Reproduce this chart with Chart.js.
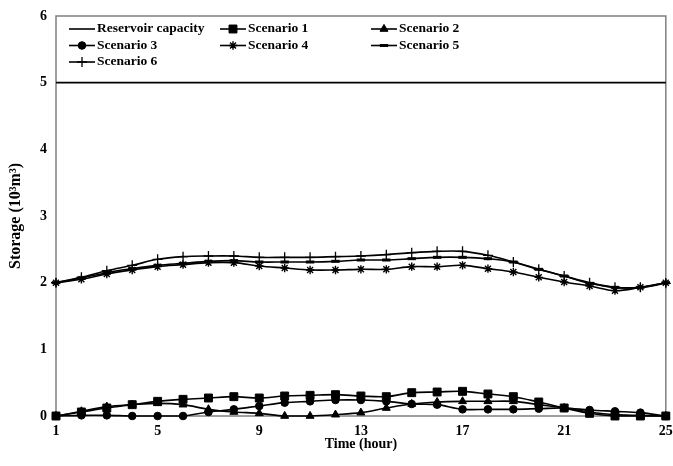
<!DOCTYPE html>
<html>
<head>
<meta charset="utf-8">
<script src="https://cdn.jsdelivr.net/npm/chart.js@4.4.1/dist/chart.umd.min.js"></script>
<style>
  html, body { margin: 0; padding: 0; background: #fff; }
  #wrap { width: 673px; height: 466px; position: relative; }
</style>
</head>
<body>
<div id="wrap"><canvas id="storageChart"></canvas></div>
<script>
// hours of the day (x axis)
const hours = [1, 2, 3, 4, 5, 6, 7, 8, 9, 10, 11, 12, 13, 14, 15, 16, 17, 18, 19, 20, 21, 22, 23, 24, 25];

// storage values (10^3 m^3)
const capacity  = [5, 5, 5, 5, 5, 5, 5, 5, 5, 5, 5, 5, 5, 5, 5, 5, 5, 5, 5, 5, 5, 5, 5, 5, 5];
const scenario1 = [0, 0.06, 0.12, 0.17, 0.22, 0.25, 0.27, 0.29, 0.27, 0.30, 0.31, 0.32, 0.30, 0.29, 0.35, 0.36, 0.37, 0.33, 0.29, 0.21, 0.12, 0.04, 0, 0, 0];
const scenario2 = [0, 0.07, 0.14, 0.17, 0.19, 0.17, 0.10, 0.06, 0.04, 0, 0, 0.02, 0.05, 0.12, 0.18, 0.21, 0.22, 0.22, 0.22, 0.17, 0.12, 0.06, 0.02, 0.01, 0];
const scenario3 = [0, 0.01, 0.01, 0, 0, 0, 0.06, 0.10, 0.15, 0.20, 0.22, 0.24, 0.24, 0.22, 0.18, 0.17, 0.10, 0.10, 0.10, 0.11, 0.12, 0.09, 0.07, 0.05, 0];
const scenario4 = [2.0, 2.05, 2.13, 2.19, 2.24, 2.27, 2.30, 2.30, 2.25, 2.22, 2.19, 2.19, 2.20, 2.20, 2.24, 2.24, 2.26, 2.21, 2.16, 2.08, 2.01, 1.95, 1.88, 1.93, 2.0];
const scenario5 = [2.0, 2.07, 2.15, 2.21, 2.26, 2.29, 2.32, 2.33, 2.31, 2.31, 2.31, 2.32, 2.34, 2.34, 2.36, 2.38, 2.38, 2.36, 2.31, 2.20, 2.10, 1.99, 1.93, 1.93, 2.0];
const scenario6 = [2.0, 2.08, 2.18, 2.26, 2.35, 2.39, 2.40, 2.40, 2.38, 2.38, 2.38, 2.39, 2.40, 2.42, 2.45, 2.47, 2.47, 2.41, 2.31, 2.20, 2.10, 2.00, 1.93, 1.93, 1.99];

const yTicks = [0, 1, 2, 3, 4, 5, 6];
const xTicks = [1, 5, 9, 13, 17, 21, 25];

const FONT = "'Liberation Serif', 'Times New Roman', serif";

function series(label, data, style, radius, bw) {
    return {
        label: label,
        data: data,
        borderColor: '#000',
        backgroundColor: '#000',
        borderWidth: 1.6,
        tension: 0.35,
        pointStyle: style,
        pointRadius: radius,
        pointHoverRadius: radius,
        pointBorderWidth: bw,
        pointBackgroundColor: '#000',
        pointBorderColor: '#000',
        clip: false
    };
}

const datasets = [
    series('Reservoir capacity', capacity, false, 0, 0),
    series('Scenario 1', scenario1, 'rect', 5.6, 1),
    series('Scenario 2', scenario2, 'triangle', 4.6, 1),
    series('Scenario 3', scenario3, 'circle', 3.8, 1),
    series('Scenario 4', scenario4, 'star', 4.2, 1.4),
    series('Scenario 5', scenario5, 'line', 4.2, 3),
    series('Scenario 6', scenario6, 'cross', 5, 1.3)
];

// legend drawn inside the plot, three fixed columns like the original
const legendCols = [69, 220, 371];
const legendRows = [29, 45.5, 62];
const insideLegend = {
    id: 'insideLegend',
    afterDraw(chart) {
        const ctx = chart.ctx;
        ctx.save();
        ctx.font = 'bold 13.5px ' + FONT;
        ctx.fillStyle = '#000';
        ctx.textBaseline = 'middle';
        chart.data.datasets.forEach((ds, i) => {
            const x = legendCols[i % 3];
            const y = legendRows[Math.floor(i / 3)];
            ctx.strokeStyle = '#000';
            ctx.lineWidth = 1.6;
            ctx.beginPath();
            ctx.moveTo(x, y);
            ctx.lineTo(x + 26, y);
            ctx.stroke();
            if (ds.pointStyle && Chart.helpers && Chart.helpers.drawPoint) {
                ctx.lineWidth = ds.pointBorderWidth;
                Chart.helpers.drawPoint(ctx, {
                    pointStyle: ds.pointStyle,
                    radius: ds.pointRadius,
                    rotation: 0,
                    borderWidth: ds.pointBorderWidth
                }, x + 13, y);
            }
            ctx.fillText(ds.label, x + 28, y);
        });
        ctx.restore();
    }
};

// grey frame round the plot area
const frame = {
    id: 'frame',
    beforeDatasetsDraw(chart) {
        const a = chart.chartArea;
        const ctx = chart.ctx;
        ctx.save();
        ctx.strokeStyle = '#7f7f7f';
        ctx.lineWidth = 1.5;
        ctx.strokeRect(a.left, a.top, a.right - a.left, a.bottom - a.top);
        ctx.restore();
    }
};

const ctx = document.getElementById('storageChart').getContext('2d');
const chart = new Chart(ctx, {
    type: 'line',
    data: { labels: hours, datasets: datasets },
    options: {
        responsive: true,
        maintainAspectRatio: false,
        animation: false,
        events: [],
        layout: { padding: { top: 16, right: 6, left: 0, bottom: 0 } },
        plugins: {
            legend: { display: false },
            tooltip: { enabled: false }
        },
        scales: {
            x: {
                type: 'linear',
                min: 1,
                max: 25,
                afterBuildTicks: (scale) => { scale.ticks = xTicks.map(v => ({ value: v })); },
                afterFit: (scale) => {
                    scale.height = 50;
                    scale.paddingLeft = 0;
                    scale.paddingRight = 0;
                },
                grid: { display: false, drawTicks: false },
                border: { display: false },
                ticks: {
                    color: '#000',
                    padding: 7,
                    maxRotation: 0,
                    font: { family: FONT, size: 14, weight: 'bold' }
                },
                title: {
                    display: true,
                    text: 'Time (hour)',
                    color: '#000',
                    padding: { top: 0, bottom: 13 },
                    font: { family: FONT, size: 14, weight: 'bold' }
                }
            },
            y: {
                min: 0,
                max: 6,
                afterBuildTicks: (scale) => { scale.ticks = yTicks.map(v => ({ value: v })); },
                afterFit: (scale) => {
                    scale.width = 56;
                    scale.paddingTop = 0;
                    scale.paddingBottom = 0;
                },
                grid: { display: false, drawTicks: false },
                border: { display: false },
                ticks: {
                    color: '#000',
                    padding: 9,
                    font: { family: FONT, size: 14, weight: 'bold' }
                },
                title: {
                    display: true,
                    text: 'Storage (10³m³)',
                    color: '#000',
                    padding: { top: 6, bottom: 0 },
                    font: { family: FONT, size: 16, weight: 'bold' }
                }
            }
        }
    },
    plugins: [frame, insideLegend]
});
</script>
</body>
</html>
